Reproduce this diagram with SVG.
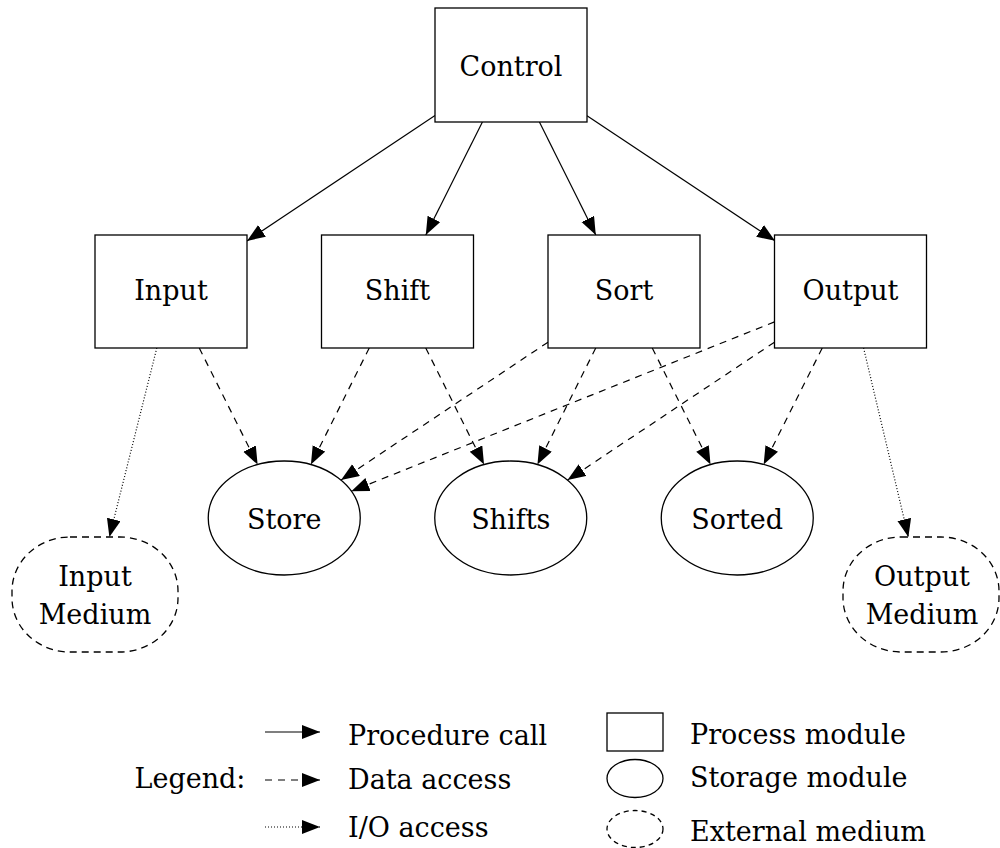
<svg xmlns="http://www.w3.org/2000/svg" width="1000" height="848" viewBox="0 0 1000 848">
<style>
text{font-family:'DejaVu Serif','Liberation Serif',serif;font-size:27px;fill:#000;text-anchor:middle}
.lt{text-anchor:start}
.box{fill:#fff;stroke:#000;stroke-width:1.3}
.st{fill:#fff;stroke:#000;stroke-width:1.3}
.med{fill:#fff;stroke:#000;stroke-width:1.3;stroke-dasharray:7,5}
.e{fill:none;stroke:#000;stroke-width:1.2;marker-end:url(#ah)}
.d{stroke-dasharray:7,6}
.o{stroke-dasharray:1,2}
</style>
<defs>
<marker id="ah" markerUnits="userSpaceOnUse" markerWidth="20" markerHeight="16" refX="18" refY="7" orient="auto">
<path d="M0,0 L18,7 L0,14 z" fill="#000" stroke="none"/>
</marker>
</defs>
<g id="connectors">
<line class="e" x1="435" y1="115.6" x2="247" y2="240.9"/>
<line class="e" x1="482.4" y1="122" x2="425.8" y2="235"/>
<line class="e" x1="539.4" y1="122" x2="595.8" y2="235"/>
<line class="e" x1="587" y1="115.7" x2="775" y2="240.8"/>
<line class="e d" x1="199.25" y1="348" x2="257.6" y2="464.6"/>
<line class="e d" x1="369.25" y1="348" x2="310.9" y2="464.6"/>
<line class="e d" x1="425.75" y1="348" x2="484.05" y2="464.6"/>
<line class="e d" x1="548" y1="342.2" x2="341.05" y2="480.1"/>
<line class="e d" x1="595.75" y1="348" x2="537.45" y2="464.6"/>
<line class="e d" x1="652.25" y1="348" x2="710.55" y2="464.6"/>
<line class="e d" x1="774.5" y1="321.9" x2="351.3" y2="491.2"/>
<line class="e d" x1="774.5" y1="342.2" x2="567.55" y2="480.1"/>
<line class="e d" x1="822.25" y1="348" x2="763.65" y2="464.6"/>
<line class="e o" x1="156.8" y1="348" x2="109.4" y2="537"/>
<line class="e o" x1="863.6" y1="348" x2="908.4" y2="537"/>
</g>
<g id="control"><rect class="box" x="435" y="8" width="152" height="114"/><text x="511" y="76">Control</text></g>
<g id="input"><rect class="box" x="95" y="235" width="152" height="113"/><text x="171" y="300">Input</text></g>
<g id="shift"><rect class="box" x="321.5" y="235" width="152" height="113"/><text x="397.5" y="300">Shift</text></g>
<g id="sort"><rect class="box" x="548" y="235" width="152" height="113"/><text x="624" y="300">Sort</text></g>
<g id="output"><rect class="box" x="774.5" y="235" width="152" height="113"/><text x="850.5" y="300">Output</text></g>
<g id="store"><ellipse class="st" cx="284.25" cy="518" rx="76" ry="57"/><text x="284.25" y="529">Store</text></g>
<g id="shifts"><ellipse class="st" cx="510.75" cy="518" rx="76" ry="57"/><text x="510.75" y="529">Shifts</text></g>
<g id="sorted"><ellipse class="st" cx="737.25" cy="518" rx="76" ry="57"/><text x="737.25" y="529">Sorted</text></g>
<g id="input-medium"><rect class="med" x="12" y="537" width="166" height="115" rx="58" ry="54"/><text x="95" y="586">Input</text><text x="95" y="624">Medium</text></g>
<g id="output-medium"><rect class="med" x="843" y="537" width="156" height="115" rx="58" ry="54"/><text x="922" y="586">Output</text><text x="922" y="624">Medium</text></g>
<g id="legend">
<text x="190" y="788">Legend:</text>
<line class="e" x1="265" y1="732" x2="320" y2="732"/>
<line class="e d" x1="265" y1="780" x2="320" y2="780"/>
<line class="e o" x1="265" y1="827" x2="320" y2="827"/>
<text class="lt" x="348" y="745">Procedure call</text>
<text class="lt" x="348" y="789">Data access</text>
<text class="lt" x="348" y="837">I/O access</text>
<rect class="box" x="607" y="713" width="56" height="38"/>
<ellipse class="st" cx="635" cy="778.5" rx="28" ry="19"/>
<ellipse class="st" cx="635" cy="829" rx="28" ry="18.5" style="stroke-dasharray:5,4"/>
<text class="lt" x="690" y="744">Process module</text>
<text class="lt" x="690" y="787">Storage module</text>
<text class="lt" x="690" y="841">External medium</text>
</g>
</svg>
